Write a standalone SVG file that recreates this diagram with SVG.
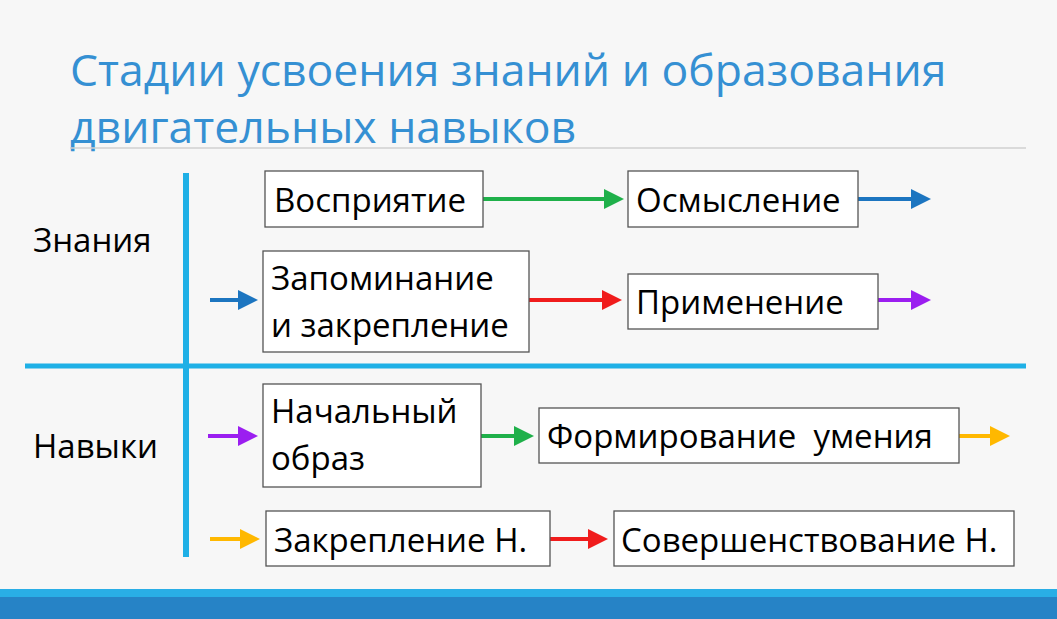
<svg xmlns="http://www.w3.org/2000/svg" width="1057" height="619" viewBox="0 0 1057 619">
<defs>
<style>
.t{font-family:"Open Sans","Liberation Sans",sans-serif;font-size:33px;fill:#000}
.h{font-family:"Open Sans","Liberation Sans",sans-serif;font-size:44.5px;fill:#3590d3}
.b{fill:#fff;stroke:#555;stroke-width:1.3}
.a{stroke-width:4;fill:none}
</style>
<marker id="mg" markerWidth="5" markerHeight="5" refX="4" refY="2.5" orient="auto" markerUnits="strokeWidth"><path d="M0,0L5,2.5L0,5z" fill="#1fb04a"/></marker>
<marker id="mb" markerWidth="5" markerHeight="5" refX="4" refY="2.5" orient="auto" markerUnits="strokeWidth"><path d="M0,0L5,2.5L0,5z" fill="#1c75c0"/></marker>
<marker id="mr" markerWidth="5" markerHeight="5" refX="4" refY="2.5" orient="auto" markerUnits="strokeWidth"><path d="M0,0L5,2.5L0,5z" fill="#f01c1c"/></marker>
<marker id="mp" markerWidth="5" markerHeight="5" refX="4" refY="2.5" orient="auto" markerUnits="strokeWidth"><path d="M0,0L5,2.5L0,5z" fill="#9b1ef0"/></marker>
<marker id="mo" markerWidth="5" markerHeight="5" refX="4" refY="2.5" orient="auto" markerUnits="strokeWidth"><path d="M0,0L5,2.5L0,5z" fill="#ffb800"/></marker>
</defs>
<rect width="1057" height="619" fill="#f7f7f7"/>
<rect x="0" y="589" width="1057" height="8" fill="#29aee6"/>
<rect x="0" y="597" width="1057" height="22" fill="#2683c6"/>
<text class="h" x="70" y="86">Стадии усвоения знаний и образования</text>
<text class="h" x="70" y="143">двигательных навыков</text>
<line x1="70" y1="148" x2="1026" y2="148" stroke="#d0d0d0" stroke-width="1.5"/>
<line x1="186" y1="173" x2="186" y2="557" stroke="#1fb0e6" stroke-width="6"/>
<line x1="25" y1="366" x2="1026" y2="366" stroke="#1fb0e6" stroke-width="5"/>
<text class="t" x="33" y="252">Знания</text>
<text class="t" x="33" y="458">Навыки</text>
<g id="connectors">
<line class="a" stroke="#1fb04a" x1="483" y1="199" x2="620" y2="199" marker-end="url(#mg)"/>
<line class="a" stroke="#1c75c0" x1="858" y1="199" x2="927" y2="199" marker-end="url(#mb)"/>
<line class="a" stroke="#1c75c0" x1="210" y1="300" x2="254" y2="300" marker-end="url(#mb)"/>
<line class="a" stroke="#f01c1c" x1="529" y1="300" x2="618" y2="300" marker-end="url(#mr)"/>
<line class="a" stroke="#9b1ef0" x1="878" y1="300" x2="927" y2="300" marker-end="url(#mp)"/>
<line class="a" stroke="#9b1ef0" x1="208" y1="436" x2="254" y2="436" marker-end="url(#mp)"/>
<line class="a" stroke="#1fb04a" x1="481" y1="436" x2="530" y2="436" marker-end="url(#mg)"/>
<line class="a" stroke="#ffb800" x1="959" y1="436" x2="1006" y2="436" marker-end="url(#mo)"/>
<line class="a" stroke="#ffb800" x1="210" y1="539" x2="256" y2="539" marker-end="url(#mo)"/>
<line class="a" stroke="#f01c1c" x1="550" y1="539" x2="604" y2="539" marker-end="url(#mr)"/>
</g>
<g id="n1"><rect class="b" x="265" y="171" width="218" height="56"/><text class="t" x="274" y="212">Восприятие</text></g>
<g id="n2"><rect class="b" x="628" y="171" width="230" height="56"/><text class="t" x="636" y="212">Осмысление</text></g>
<g id="n3"><rect class="b" x="263" y="251" width="266" height="101"/><text class="t" x="271" y="290">Запоминание</text><text class="t" x="271" y="337">и закрепление</text></g>
<g id="n4"><rect class="b" x="628" y="274" width="250" height="55"/><text class="t" x="636" y="314">Применение</text></g>
<g id="n5"><rect class="b" x="263" y="384" width="218" height="103"/><text class="t" x="271" y="423">Начальный</text><text class="t" x="271" y="470">образ</text></g>
<g id="n6"><rect class="b" x="539" y="408" width="420" height="55"/><text class="t" x="547" y="448" xml:space="preserve">Формирование  умения</text></g>
<g id="n7"><rect class="b" x="266" y="511" width="284" height="55"/><text class="t" x="274" y="552">Закрепление Н.</text></g>
<g id="n8"><rect class="b" x="614" y="511" width="400" height="55"/><text class="t" x="621" y="552">Совершенствование Н.</text></g>
</svg>
